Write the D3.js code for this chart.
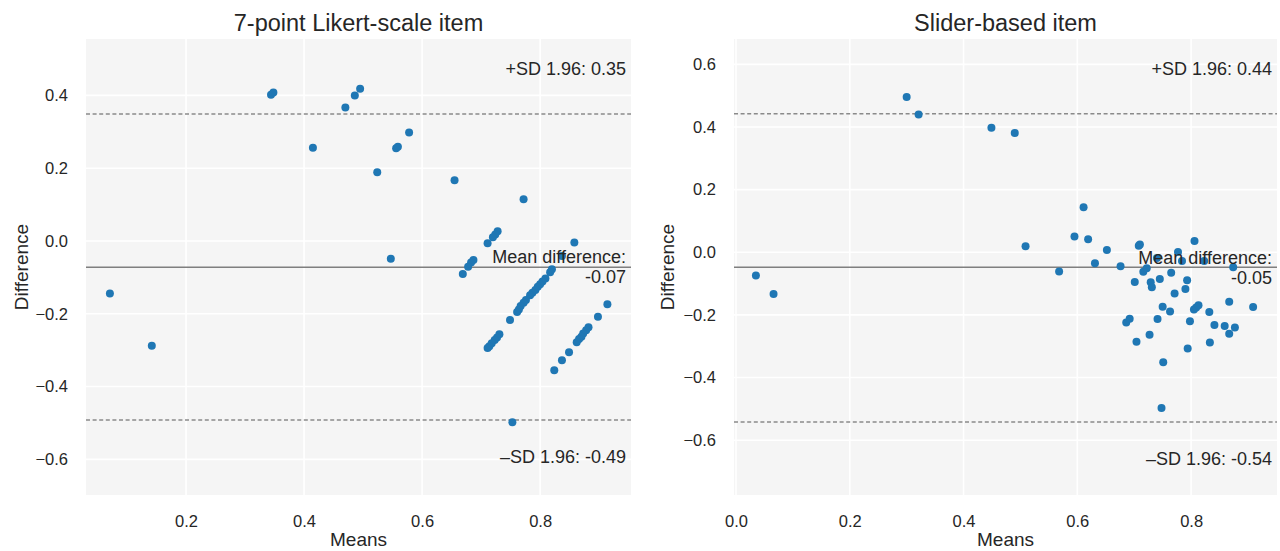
<!DOCTYPE html>
<html lang="en">
  <head>
    <meta charset="UTF-8" />
    <title>Bland-Altman plots</title>
    <style>
      body { margin: 0; background: #fff; }
      svg text { font-family: "Liberation Sans", Arial, sans-serif; fill: #262626; }
    </style>
  </head>
  <body>
    <svg id="chart" width="1280" height="551"></svg>
    <script src="https://d3js.org/d3.v7.min.js"></script>
    <script>
      // 7-point Likert-scale item: means / differences
      var likertMeans = [0.071, 0.142, 0.344, 0.348, 0.415, 0.470, 0.486, 0.495, 0.524, 0.556, 0.559, 0.578, 0.547,
        0.655, 0.772, 0.753, 0.749,
        0.728, 0.724, 0.720, 0.711, 0.858, 0.837,
        0.687, 0.683, 0.678, 0.669,
        0.820, 0.817, 0.809, 0.804, 0.800, 0.796, 0.792, 0.787, 0.783, 0.776, 0.772, 0.767, 0.764, 0.761,
        0.731, 0.727, 0.723, 0.718, 0.714, 0.711,
        0.914, 0.898, 0.882, 0.878, 0.873, 0.870, 0.866, 0.862, 0.849, 0.837, 0.824];
      var likertDiffs = [-0.144, -0.288, 0.402, 0.408, 0.256, 0.367, 0.400, 0.418, 0.189, 0.255, 0.259, 0.298, -0.049,
        0.167, 0.115, -0.498, -0.217,
        0.027, 0.018, 0.010, -0.006, -0.004, -0.041,
        -0.052, -0.059, -0.071, -0.091,
        -0.078, -0.086, -0.103, -0.111, -0.119, -0.126, -0.135, -0.142, -0.149, -0.162, -0.170, -0.179, -0.188, -0.195,
        -0.256, -0.265, -0.272, -0.281, -0.289, -0.294,
        -0.174, -0.208, -0.237, -0.245, -0.254, -0.263, -0.269, -0.278, -0.306, -0.328, -0.355];
      // mean difference, +1.96 SD, -1.96 SD
      var likertLimits = [-0.072, 0.349, -0.492];

      // Slider-based item
      var sliderMeans = [0.035, 0.066, 0.300, 0.321, 0.449, 0.490, 0.509, 0.568, 0.595, 0.611, 0.619, 0.631,
        0.652, 0.676, 0.701, 0.708, 0.710, 0.686, 0.692, 0.704, 0.716, 0.722, 0.727, 0.729, 0.731,
        0.740, 0.741, 0.745, 0.750, 0.751, 0.748, 0.763, 0.765, 0.771, 0.777, 0.784, 0.790, 0.793,
        0.794, 0.798, 0.805, 0.809, 0.813, 0.806, 0.823, 0.832, 0.833, 0.841, 0.859, 0.867, 0.867,
        0.874, 0.877, 0.909];
      var sliderDiffs = [-0.074, -0.133, 0.496, 0.440, 0.398, 0.381, 0.019, -0.061, 0.050, 0.144, 0.042, -0.035,
        0.007, -0.045, -0.095, 0.021, 0.025, -0.224, -0.212, -0.286, -0.062, -0.051, -0.263, -0.096, -0.112,
        -0.018, -0.213, -0.085, -0.174, -0.351, -0.497, -0.189, -0.065, -0.132, 0.001, -0.028, -0.117, -0.089,
        -0.307, -0.220, -0.183, -0.176, -0.169, 0.036, -0.028, -0.191, -0.288, -0.232, -0.235, -0.260, -0.158,
        -0.048, -0.240, -0.175];
      var sliderLimits = [-0.048, 0.442, -0.542];

      var likertXTicks = [0.2, 0.4, 0.6, 0.8];
      var likertYTicks = [0.4, 0.2, 0.0, -0.2, -0.4, -0.6];
      var sliderXTicks = [0.0, 0.2, 0.4, 0.6, 0.8];
      var sliderYTicks = [0.6, 0.4, 0.2, 0.0, -0.2, -0.4, -0.6];

      var svg = d3.select("#chart");
      var fmt = function (d) { return d3.format(".1f")(d).replace("-", "\u2212"); };

      function drawPanel(p) {
        var x = d3.scaleLinear().domain(p.xDomain).range([p.left, p.right]);
        var y = d3.scaleLinear().domain(p.yDomain).range([p.bottom, p.top]);
        var g = svg.append("g");

        g.append("rect")
          .attr("x", p.left).attr("y", p.top)
          .attr("width", p.right - p.left).attr("height", p.bottom - p.top)
          .attr("fill", "#f5f5f5");

        // grid
        g.selectAll(".vgrid").data(p.xTicks).enter().append("line")
          .attr("x1", function (d) { return x(d); }).attr("x2", function (d) { return x(d); })
          .attr("y1", p.top).attr("y2", p.bottom)
          .attr("stroke", "#fff").attr("stroke-width", 1.6);
        g.selectAll(".hgrid").data(p.yTicks).enter().append("line")
          .attr("y1", function (d) { return y(d); }).attr("y2", function (d) { return y(d); })
          .attr("x1", p.left).attr("x2", p.right)
          .attr("stroke", "#fff").attr("stroke-width", 1.6);

        // axes (labels only)
        var xa = g.append("g").attr("transform", "translate(0," + p.bottom + ")")
          .call(d3.axisBottom(x).tickValues(p.xTicks).tickFormat(fmt).tickSize(0).tickPadding(20));
        var ya = g.append("g").attr("transform", "translate(" + p.left + ",0)")
          .call(d3.axisLeft(y).tickValues(p.yTicks).tickFormat(fmt).tickSize(0).tickPadding(18));
        [xa, ya].forEach(function (a) {
          a.select(".domain").remove();
          a.selectAll("text").attr("font-size", 16.5).attr("font-family", null).attr("fill", "#262626");
        });

        // limit lines
        var lim = p.limits;
        g.append("line")
          .attr("x1", p.left).attr("x2", p.right)
          .attr("y1", y(lim[0])).attr("y2", y(lim[0]))
          .attr("stroke", "#7f7f7f").attr("stroke-width", 1.5);
        [lim[1], lim[2]].forEach(function (v) {
          g.append("line")
            .attr("x1", p.left).attr("x2", p.right)
            .attr("y1", y(v)).attr("y2", y(v))
            .attr("stroke", "#8a8a8a").attr("stroke-width", 1.5)
            .attr("stroke-dasharray", "4,2.6");
        });

        // points
        var pts = p.means.map(function (m, i) { return [m, p.diffs[i]]; });
        g.selectAll("circle").data(pts).enter().append("circle")
          .attr("cx", function (d) { return x(d[0]); })
          .attr("cy", function (d) { return y(d[1]); })
          .attr("r", 4)
          .attr("fill", "#1f77b4");

        // annotations
        var tx = p.right - 5;
        function note(str, yy) {
          g.append("text").attr("x", tx).attr("y", yy)
            .attr("text-anchor", "end").attr("dy", "0.35em")
            .attr("font-size", 18).text(str);
        }
        note("+SD 1.96: " + lim[1].toFixed(2), y(lim[1]) - 45);
        note("\u2013SD 1.96: " + lim[2].toFixed(2), y(lim[2]) + 37);
        note("Mean difference:", y(lim[0]) - 10);
        note(lim[0].toFixed(2), y(lim[0]) + 10);

        // title and axis labels
        var cx = (p.left + p.right) / 2;
        g.append("text").attr("x", cx).attr("y", 31)
          .attr("text-anchor", "middle").attr("font-size", 23.5).text(p.title);
        g.append("text").attr("x", cx).attr("y", 546)
          .attr("text-anchor", "middle").attr("font-size", 19).text("Means");
        g.append("text")
          .attr("transform", "translate(" + p.yLabelX + "," + ((p.top + p.bottom) / 2) + ") rotate(-90)")
          .attr("text-anchor", "middle").attr("dy", "0.35em")
          .attr("font-size", 19).text("Difference");
      }

      drawPanel({
        title: "7-point Likert-scale item",
        left: 86, right: 631, top: 39, bottom: 495, yLabelX: 21,
        xDomain: [0.0305, 0.954], yDomain: [-0.698, 0.555],
        xTicks: likertXTicks, yTicks: likertYTicks,
        means: likertMeans, diffs: likertDiffs, limits: likertLimits
      });
      drawPanel({
        title: "Slider-based item",
        left: 734, right: 1277, top: 39, bottom: 495, yLabelX: 667,
        xDomain: [-0.0035, 0.951], yDomain: [-0.775, 0.681],
        xTicks: sliderXTicks, yTicks: sliderYTicks,
        means: sliderMeans, diffs: sliderDiffs, limits: sliderLimits
      });
    </script>
  </body>
</html>
